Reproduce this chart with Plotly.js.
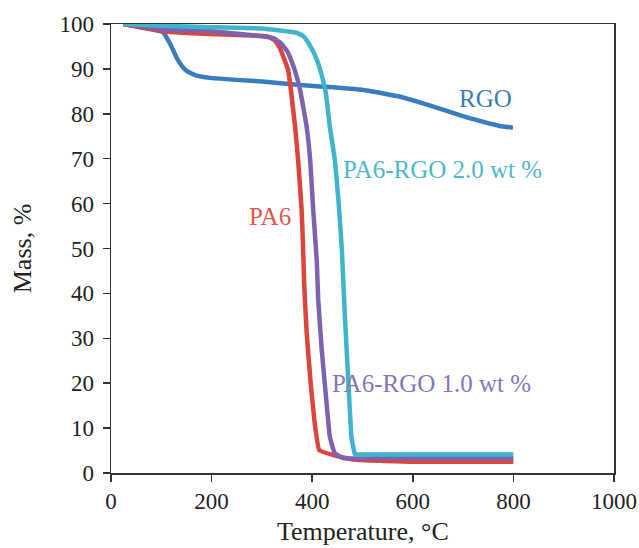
<!DOCTYPE html>
<html>
<head>
<meta charset="utf-8">
<script src="https://cdn.plot.ly/plotly-3.0.1.min.js"></script>
<style>html,body{margin:0;padding:0;background:#fff;}#chart{width:639px;height:548px;}</style>
</head>
<body>
<div id="chart"></div>
<script>
// Temperature (°C) and mass (%)
const rgoT   = [25, 60, 103, 118, 131, 142, 151, 170, 197, 256, 300, 376, 441, 508, 575, 641, 707, 773, 799];
const rgoM   = [100, 99.2, 98.2, 95.5, 92.4, 90.5, 89.5, 88.5, 88.0, 87.5, 87.2, 86.4, 85.9, 85.2, 83.8, 81.6, 79.2, 77.3, 76.9];

const pa6T   = [25, 60, 103, 150, 240, 310, 325, 336, 345, 352, 358, 366, 372, 379, 382, 384, 389, 397, 405, 414, 442, 481, 540, 594, 800];
const pa6M   = [100, 99.3, 98.4, 98.0, 97.6, 97.3, 96.4, 94.6, 92.0, 89.8, 85.0, 77.1, 69.7, 58.6, 49.7, 42.3, 31.2, 20.0, 11.1, 5.1, 4.0, 3.0, 2.7, 2.5, 2.5];

const pa1T   = [25, 60, 103, 200, 322, 337, 350, 358, 366, 376, 389, 396, 402, 409, 412, 419, 428, 435, 445, 462, 540, 800];
const pa1M   = [100, 99.6, 98.8, 98.4, 96.9, 95.8, 94.0, 92.0, 89.5, 85.3, 77.1, 69.7, 58.6, 47.4, 38.5, 27.4, 16.3, 8.1, 4.4, 3.3, 3.3, 3.3];

const pa2T   = [25, 100, 200, 300, 370, 382, 390, 400, 410, 422, 428, 435, 445, 452, 459, 465, 472, 478, 485, 500, 800];
const pa2M   = [100, 99.6, 99.3, 99.0, 98.0, 97.3, 96.2, 94.3, 91.8, 87.3, 84.0, 77.1, 69.7, 61.0, 49.7, 34.8, 20.0, 8.1, 4.2, 4.1, 4.1];

const seriesNames  = ['RGO', 'PA6', 'PA6-RGO 1.0 wt %', 'PA6-RGO 2.0 wt %'];
const labelT       = [745, 316, 637, 660];
const labelM       = [83.5, 57.2, 20.0, 67.5];

const xTicks = [0, 200, 400, 600, 800, 1000];
const yTicks = [0, 10, 20, 30, 40, 50, 60, 70, 80, 90, 100];

const xTitle = 'Temperature, °C';
const yTitle = 'Mass, %';

const lineColors  = ['#3a7dbf', '#dc443e', '#7d62b0', '#3eb5cd'];
const labelColors = ['#3b7bb8', '#e0584e', '#8677b8', '#4fb9c9'];

const font = 'Liberation Serif, DejaVu Serif, serif';

const data = [
  {x: rgoT, y: rgoM}, {x: pa6T, y: pa6M}, {x: pa1T, y: pa1M}, {x: pa2T, y: pa2M}
].map((d, i) => ({
  x: d.x, y: d.y, type: 'scatter', mode: 'lines', name: seriesNames[i],
  line: {color: lineColors[i], width: 4.5, shape: 'spline', smoothing: 0.3},
  hoverinfo: 'skip'
}));

const annotations = seriesNames.map((n, i) => ({
  x: labelT[i], y: labelM[i], xref: 'x', yref: 'y', text: n, showarrow: false,
  font: {family: font, size: 25, color: labelColors[i]}
}));
annotations.push({
  x: 0.5, y: -0.131, xref: 'paper', yref: 'paper', text: xTitle, showarrow: false,
  yanchor: 'middle', font: {family: font, size: 26, color: '#222'}
});

const axisCommon = {
  showgrid: false, zeroline: false, showline: true, linecolor: '#333', linewidth: 1.5,
  mirror: true, ticks: 'outside', ticklen: 7, tickwidth: 1.5, tickcolor: '#333',
  tickfont: {family: font, size: 23, color: '#222'}
};

const layout = {
  width: 639, height: 548,
  margin: {l: 111, r: 25, t: 24, b: 75},
  paper_bgcolor: '#fff', plot_bgcolor: '#fff',
  showlegend: false,
  xaxis: Object.assign({}, axisCommon, {
    range: [0, 1000], tickvals: xTicks, ticktext: xTicks.map(String)
  }),
  yaxis: Object.assign({}, axisCommon, {
    range: [0, 100], tickvals: yTicks, ticktext: yTicks.map(String),
    ticklabelstandoff: 4,
    title: {text: yTitle, font: {family: font, size: 26, color: '#222'}, standoff: 20}
  }),
  annotations: annotations
};

Plotly.newPlot('chart', data, layout, {staticPlot: true, displayModeBar: false});
</script>
</body>
</html>
